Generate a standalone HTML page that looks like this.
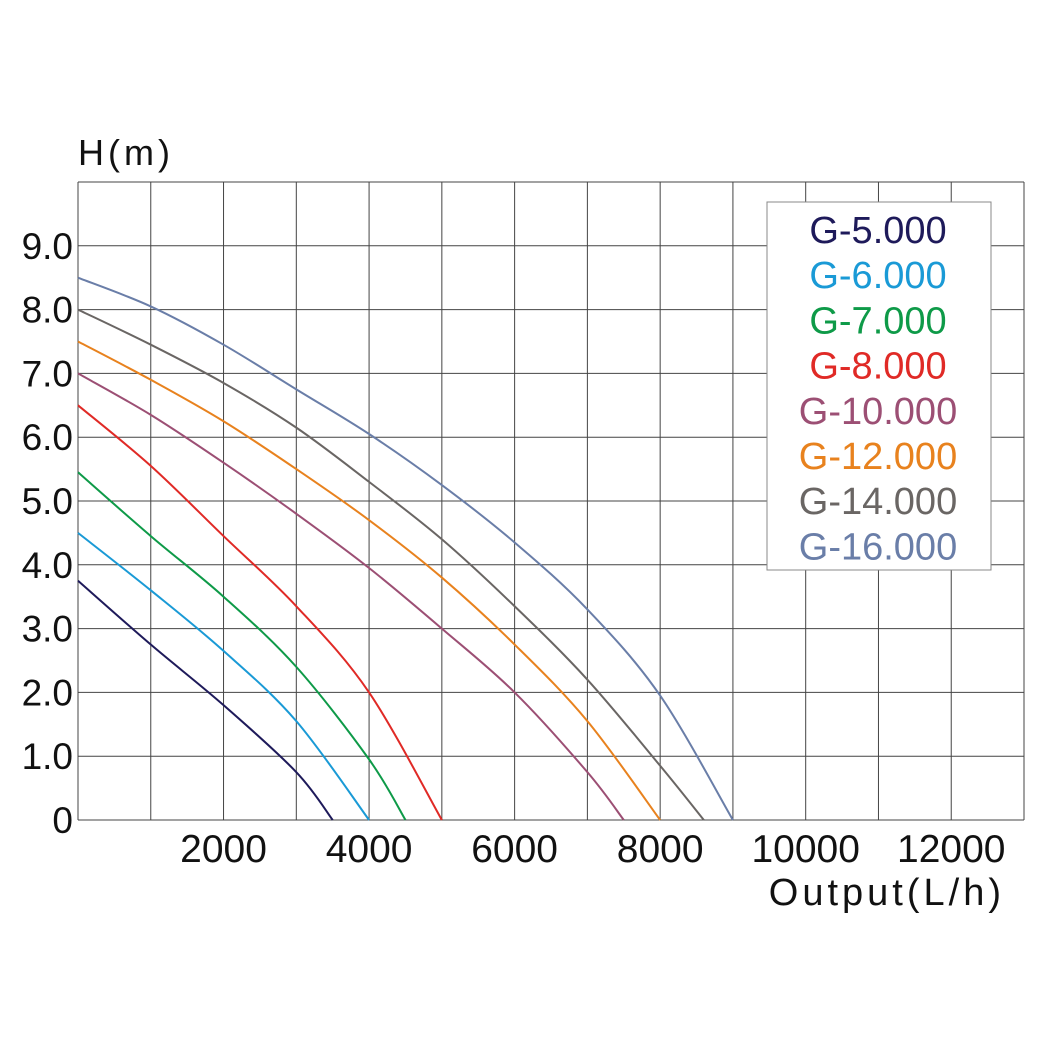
<!DOCTYPE html>
<html><head><meta charset="utf-8"><style>
html,body{margin:0;padding:0;background:#fff;}
svg{display:block;font-family:"Liberation Sans",sans-serif;}
</style></head><body>
<svg id="chart" width="1050" height="1050" viewBox="0 0 1050 1050" xmlns="http://www.w3.org/2000/svg">
<rect width="1050" height="1050" fill="#fff"/>
<g id="grid"></g>
<g id="curves"></g>
<g id="labels"></g>
<text x="78" y="165" font-size="36" letter-spacing="4" fill="#111">H(m)</text>
<text x="1005" y="905" font-size="38" letter-spacing="4" text-anchor="end" fill="#111">Output(L/h)</text>
<g id="legend"></g>
</svg>
<script>
const seriesNames=["G-5.000","G-6.000","G-7.000","G-8.000","G-10.000","G-12.000","G-14.000","G-16.000"];
const seriesColors=["#1e1a5a","#1a9ad6","#0e9a48","#e02a26","#9c4f74","#e8821e","#6a6664","#6a7ea8"];
const flowG5=[0,1000,2000,3000,3500];
const headG5=[3.75,2.75,1.8,0.75,0];
const flowG6=[0,1000,2000,3000,4000];
const headG6=[4.5,3.6,2.65,1.55,0];
const flowG7=[0,1000,2000,3000,4000,4500];
const headG7=[5.45,4.45,3.5,2.4,0.95,0];
const flowG8=[0,1000,2000,3000,4000,5000];
const headG8=[6.5,5.55,4.45,3.35,2.0,0];
const flowG10=[0,1000,2000,3000,4000,5000,6000,7000,7500];
const headG10=[7.0,6.35,5.6,4.8,3.95,3.0,2.0,0.75,0];
const flowG12=[0,1000,2000,3000,4000,5000,6000,7000,8000];
const headG12=[7.5,6.9,6.25,5.5,4.7,3.8,2.75,1.55,0];
const flowG14=[0,1000,2000,3000,4000,5000,6000,7000,8000,8600];
const headG14=[8.0,7.45,6.85,6.15,5.3,4.4,3.35,2.2,0.85,0];
const flowG16=[0,1000,2000,3000,4000,5000,6000,7000,8000,9000];
const headG16=[8.5,8.05,7.45,6.75,6.05,5.25,4.35,3.3,1.95,0];
const yTicks=[0,1,2,3,4,5,6,7,8,9];
const yTickLabels=["0","1.0","2.0","3.0","4.0","5.0","6.0","7.0","8.0","9.0"];
const xTicks=[2000,4000,6000,8000,10000,12000];
const xTickLabels=["2000","4000","6000","8000","10000","12000"];

const NS="http://www.w3.org/2000/svg";
const X0=78,X1=1024,Y0=820,Y1=182,XMAX=13000,YMAX=10;
const sx=v=>X0+v/XMAX*(X1-X0);
const sy=v=>Y0-v/YMAX*(Y0-Y1);
function mk(tag,attrs,parent){const e=document.createElementNS(NS,tag);for(const k in attrs)e.setAttribute(k,attrs[k]);parent.appendChild(e);return e;}
const grid=document.getElementById('grid');
for(let v=0;v<=XMAX;v+=1000){
  const l=mk('line',{x1:sx(v),x2:sx(v),y1:Y1,y2:Y0,stroke:'#444','stroke-width':1},grid);
  
  
}
for(let v=0;v<=YMAX;v+=1){
  const l=mk('line',{x1:X0,x2:X1,y1:sy(v),y2:sy(v),stroke:'#444','stroke-width':1},grid);
  
  
}
const labels=document.getElementById('labels');
yTicks.forEach((v,i)=>{
  const t=mk('text',{x:73,y:sy(v)+13,'font-size':37,'text-anchor':'end',fill:'#111'},labels);
  t.textContent=yTickLabels[i];
  
  
});
xTicks.forEach((v,i)=>{
  const t=mk('text',{x:sx(v),y:862,'font-size':39,'text-anchor':'middle',fill:'#111'},labels);
  t.textContent=xTickLabels[i];
  
  
});
function pathFor(xs,ys){
  const p=xs.map((x,i)=>[sx(x),sy(ys[i])]);
  let d='M'+p[0][0]+','+p[0][1];
  for(let i=0;i<p.length-1;i++){
    const a=p[i-1]||p[i],b=p[i],c=p[i+1],e=p[i+2]||c;
    const c1=[b[0]+(c[0]-a[0])/6,b[1]+(c[1]-a[1])/6];
    const c2=[c[0]-(e[0]-b[0])/6,c[1]-(e[1]-b[1])/6];
    d+=' C'+c1+' '+c2+' '+c;
  }
  return d;
}
const flows=[flowG5,flowG6,flowG7,flowG8,flowG10,flowG12,flowG14,flowG16];
const heads=[headG5,headG6,headG7,headG8,headG10,headG12,headG14,headG16];
const curves=document.getElementById('curves');
flows.forEach((f,i)=>{
  const p=mk('path',{d:pathFor(f,heads[i]),fill:'none',stroke:seriesColors[i],'stroke-width':2},curves);
  
  
});
const lg=document.getElementById('legend');
const box=mk('rect',{x:767,y:202,width:224,height:368,fill:'#fff',stroke:'#888','stroke-width':1},lg);


seriesNames.forEach((n,i)=>{
  const t=mk('text',{x:878,y:243+i*45.2,'font-size':38,'text-anchor':'middle',fill:seriesColors[i]},lg);
  t.textContent=n;
  
  
});
</script>
</body></html>
